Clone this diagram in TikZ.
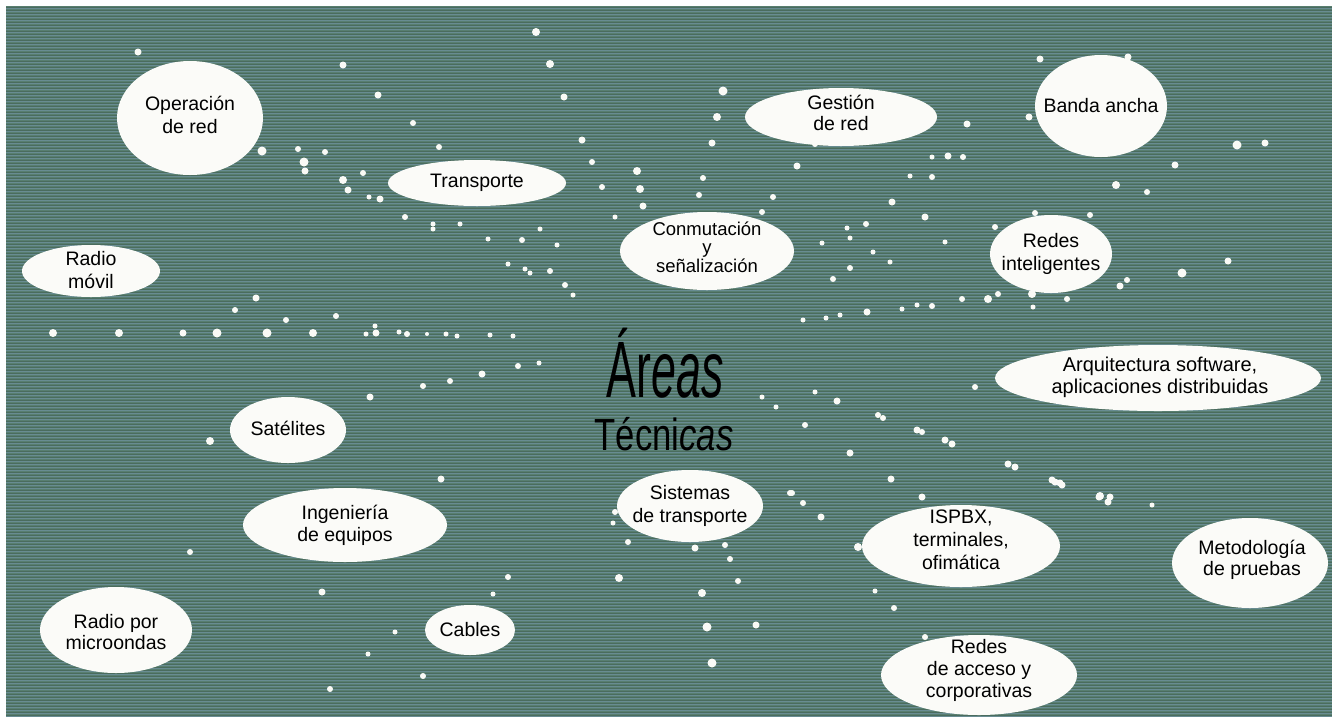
\documentclass[tikz,border=0pt]{standalone}
\usepackage{graphicx}
\usepackage{fontspec}
\setmainfont{Liberation Sans}
\definecolor{panelbg}{RGB}{88,126,112}
\definecolor{stripedark}{RGB}{74,108,94}
\definecolor{stripelight}{RGB}{104,140,146}
\definecolor{bubble}{RGB}{251,251,248}
\definecolor{speck}{RGB}{250,250,246}
\begin{document}
\begin{tikzpicture}[x=1pt,y=-1pt,
  lbl/.style={align=center,inner sep=0pt,text=black,font=\fontsize{19.5}{23}\selectfont},
  bub/.style={fill=bubble},
  spk/.style={fill=speck}]
\useasboundingbox (0,0) rectangle (1337,721);
% page and textured panel
\fill[white] (0,0) rectangle (1337,721);
\fill[panelbg] (6,6) rectangle (1332,716);
\foreach \yy in {7,10,...,715} {
  \draw[stripedark,line width=0.8pt] (6,\yy) -- (1332,\yy);
  \draw[stripelight,line width=0.6pt] (6,\yy+1.5) -- (1332,\yy+1.5);
}
% scattered specks
\foreach \px/\py/\pr in {
 138/52/3.5,343/65/3.5,378/95/3.5,413/123/3,262/151/4.5,298/149/3,325/152/3,304/162/4.5,305/171/3.5,
 363/173/3,343/180/4,348/190/3.5,369/197/2.5,380/199/3.5,405/217/3,433/224/2.5,433/229/2.5,439/147/3,
 536/32/4,550/64/4,564/97/3.5,723/91/4.5,717/117/4,712/143/3.5,582/140/3.5,592/162/3,637/171/4,640/189/4,
 643/206/3.5,602/187/3,797/166/3.5,703/178/3,699/195/3,773/197/3,762/212/3,615/217/2.5,892/202/3.5,815/144/3,
 847/228/2.5,866/224/3,850/238/2.5,822/243/2.5,522/240/3,540/229/2.5,460/224/2.5,488/239/2.5,557/245/2.5,
 1040/59/3.5,1128/57/3.5,1029/117/3.5,967/124/3.5,1237/145/4.5,1265/143/3.5,1175/165/3.5,1116/185/4,1147/192/3,
 948/156/3.5,963/157/3,932/157/2.5,910/176/2.5,932/177/3,925/217/3.5,945/242/2.5,995/227/3,1035/213/3,1090/215/3,
 256/298/3.5,235/310/3,286/320/3,336/316/3,375/326/2.5,
 53/333/4,119/333/4,183/333/3.5,217/333/4.5,267/333/4.5,313/333/4,376/333/3.5,366/334/2.5,399/332/2.5,
 407/334/3,427/334/2,446/334/2.5,423/386/3,370/397/3.5,210/441/4,441/479/3.5,
 873/252/2.5,508/264/2.5,525/269/2.5,530/273/2.5,550/271/3,565/285/3,573/295/2.5,850/268/3,833/279/3,890/262/2.5,
 867/312/3.5,840/315/2.5,826/318/2.5,803/320/2.5,457/336/2.5,490/335/2.5,513/336/2.5,518/366/3,539/363/2.5,
 482/374/3.5,450/381/3,815/392/2.5,837/401/3.5,762/397/2.5,776/407/2.5,878/415/3,883/418/3,805/425/3,850/453/3.5,
 891/479/3.5,790/493/3,
 1228/261/3.5,1182/273/4.5,1120/286/3.5,1127/280/3,1032/294/4,1067/299/3,998/294/3,988/299/4,962/299/3,932/306/3,
 917/305/2.5,902/309/2.5,1033/307/2.5,975/387/3,917/430/3.5,922/432/3,945/440/3.5,952/444/3.5,1008/464/3.5,
 1015/467/3.5,1052/480/3.5,1060/483/3.5,922/497/3.5,1100/496/4,1110/497/3.5,
 190/552/3,322/592/3.5,395/632/2.5,368/654/2.5,423/676/3,330/689/3,
 508/577/3,493/594/2.5,615/512/3,613/523/2.5,628/542/3,695/548/3.5,725/545/3,730/559/3,619/578/4,738/581/3,
 702/593/4,707/627/4.5,756/625/3.5,712/663/4.5,792/493/3,803/503/3,821/517/3.5,858/547/4,875/591/2.5,894/608/3,
 1055/482/3.5,1062/485/3.5,1099/497/3.5,1108/502/3.5,1152/505/2.5,925/637/3}
 { \fill[spk] (\px,\py) circle (\pr pt); }
% area bubbles
\fill[bub] (190,118) ellipse [x radius=73pt, y radius=57pt];
\node[lbl] (oper) at (190,115) {Operación\\de red};
\fill[bub] (477,183) ellipse [x radius=89pt, y radius=23pt];
\node[lbl] (transp) at (477,183) {Transporte};
\fill[bub] (841,117) ellipse [x radius=96pt, y radius=29pt];
\node[lbl,font=\fontsize{19.5}{21}\selectfont] (gest) at (841,113) {Gestión\\de red};
\fill[bub] (1101,106) ellipse [x radius=66pt, y radius=51pt];
\node[lbl] (banda) at (1101,106) {Banda ancha};
\fill[bub] (707,251) ellipse [x radius=87pt, y radius=39pt];
\node[lbl,font=\fontsize{18.5}{18.5}\selectfont] (conm) at (707,247) {Conmutación\\y\\señalización};
\fill[bub] (1051,254) ellipse [x radius=61pt, y radius=39pt];
\node[lbl] (intel) at (1051,254) {Redes\\inteligentes};
\fill[bub] (91,271) ellipse [x radius=69pt, y radius=26pt];
\node[lbl] (movil) at (91,270) {Radio\\móvil};
\fill[bub] (1158,378) ellipse [x radius=163pt, y radius=33pt];
\node[lbl,font=\fontsize{20}{22}\selectfont] (arq) at (1160,377) {Arquitectura software,\\aplicaciones distribuidas};
\fill[bub] (288,430) ellipse [x radius=58pt, y radius=33pt];
\node[lbl] (sat) at (288,428) {Satélites};
\fill[bub] (345,525) ellipse [x radius=102pt, y radius=37pt];
\node[lbl,font=\fontsize{19.5}{22}\selectfont] (ing) at (345,525) {Ingeniería\\de equipos};
\fill[bub] (690,506) ellipse [x radius=73pt, y radius=36pt];
\node[lbl] (sist) at (690,506) {Sistemas\\de transporte};
\fill[bub] (961,546) ellipse [x radius=99pt, y radius=41pt];
\node[lbl] (ispbx) at (961,540) {ISPBX,\\terminales,\\ofimática};
\fill[bub] (1250,563) ellipse [x radius=78pt, y radius=45pt];
\node[lbl,font=\fontsize{19.5}{21}\selectfont] (metod) at (1252,560) {Metodología\\de pruebas};
\fill[bub] (979,675) ellipse [x radius=98pt, y radius=40pt];
\node[lbl,font=\fontsize{19.5}{22}\selectfont] (acceso) at (979,670) {Redes\\de acceso y\\corporativas};
\fill[bub] (116,630) ellipse [x radius=76pt, y radius=43pt];
\node[lbl,font=\fontsize{19.5}{21}\selectfont] (micro) at (116,632) {Radio por\\microondas};
\fill[bub] (470,630) ellipse [x radius=45pt, y radius=25pt];
\node[lbl] (cables) at (470,630) {Cables};
% central title
\node[anchor=base,inner sep=0pt,font=\fontsize{80}{80}\selectfont] (areas) at (665,397)
  {\scalebox{0.56}[1]{Ár\textit{eas}}};
\node[anchor=base,inner sep=0pt,font=\fontsize{45}{45}\selectfont] (tecnicas) at (664,450)
  {\scalebox{0.77}[1]{Técni\textit{cas}}};
\end{tikzpicture}
\end{document}
